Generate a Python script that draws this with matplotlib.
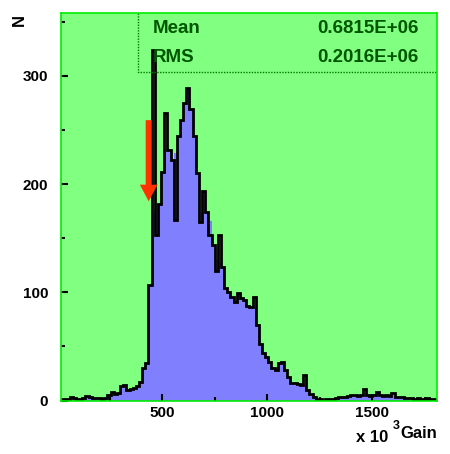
import numpy as np
import matplotlib
matplotlib.use("Agg")
import matplotlib.pyplot as plt
from matplotlib.ticker import MultipleLocator

# gain histogram, x in units of 10^3, bin width 15
bin_width = 15
fill_counts = [1, 1, 1, 1, 3, 2, 1, 1, 2, 4,
               3, 2, 2, 2, 1, 2, 5, 8, 6, 7,
               13, 14, 10, 11, 12, 13, 17, 30, 35, 107,
               173, 182, 182, 211, 231, 231, 222, 229, 244, 259,
               275, 289, 269, 244, 210, 174, 194, 174, 166, 144,
               130, 127, 123, 104, 100, 96, 91, 99, 95, 93,
               87, 86, 86, 70, 52, 44, 40, 36, 30, 28,
               35, 36, 28, 22, 16, 16, 15, 14, 15, 10,
               6, 3, 1, 1, 0, 1, 1, 1, 2, 3,
               3, 3, 4, 5, 5, 4, 5, 6, 5, 4,
               5, 8, 5, 4, 5, 4, 7, 3, 3, 3,
               2, 2, 2, 1, 2, 1, 1, 2, 1, 1]
# bins where the black outline differs from the filled histogram
spike_bins = [30, 31, 34, 37, 45, 48, 50, 51, 62, 78, 97]
spike_vals = [324, 153, 266, 167, 165, 153, 120, 153, 96, 24, 11]

mean_text = "0.6815E+06"
rms_text = "0.2016E+06"

edges = np.arange(len(fill_counts) + 1) * bin_width
line_counts = np.array(fill_counts, dtype=float)
line_counts[spike_bins] = spike_vals

W, H = 450, 454
fig = plt.figure(figsize=(W / 100, H / 100), dpi=100)
ax = fig.add_axes([60.5 / W, 1 - 400.5 / H, 376.5 / W, 387.5 / H])
ax.set_facecolor("#80ff80")

ax.stairs(fill_counts, edges, fill=True, color="#8080ff", lw=0)
ax.stairs(line_counts, edges, color="black", lw=2.0)

ax.set_xlim(16.7, 1807)
ax.set_ylim(0, 358)

for s in ax.spines.values():
    s.set_color("#00ee00")
    s.set_linewidth(1.2)

ax.xaxis.set_major_locator(MultipleLocator(500))
ax.xaxis.set_minor_locator(MultipleLocator(250))
ax.yaxis.set_major_locator(MultipleLocator(100))
ax.yaxis.set_minor_locator(MultipleLocator(50))
ax.tick_params(which="both", direction="in", top=False, right=False,
               color="black", width=1.5)
ax.tick_params(which="major", length=5)
ax.tick_params(which="minor", length=3)
ax.tick_params(axis="x", pad=4)
ax.tick_params(axis="y", pad=9)
for lab in ax.get_xticklabels() + ax.get_yticklabels():
    lab.set_fontfamily("Liberation Sans")
    lab.set_fontweight("bold")
    lab.set_fontsize(11)

# stats box
ax.plot([0.2055, 0.2055, 1.0], [1.0, 0.848, 0.848], transform=ax.transAxes,
        color="#007700", lw=1, ls=(0, (1, 1)), clip_on=False)
st = dict(transform=ax.transAxes, fontsize=13.5, color="#005500",
          family="Liberation Sans", fontweight="bold", va="center")
ax.text(0.245, 0.959, "Mean", ha="left", **st)
ax.text(0.95, 0.959, mean_text, ha="right", **st)
ax.text(0.245, 0.886, "RMS", ha="left", **st)
ax.text(0.95, 0.886, rms_text, ha="right", **st)

# red arrow
ax.annotate("", xy=(436, 184), xytext=(436, 259),
            arrowprops=dict(width=4.3, headwidth=12.7, headlength=12,
                            color="#ff3300", lw=0))

# axis titles, ROOT style
lab = dict(family="Liberation Sans", fontweight="bold", fontsize=12)
fig.text(19 / W, 1 - 20 / H, "N", rotation=90, ha="center", va="center", **lab)
fig.text(437 / W, 1 - 434 / H, "Gain", ha="right", va="center", **lab)
fig.text(388 / W, 1 - 438 / H, "x 10", ha="right", va="center", **lab)
fig.text(396.5 / W, 1 - 426 / H, "3", ha="center", va="center",
         family="Liberation Sans", fontweight="bold", fontsize=9)

fig.savefig("out.png", dpi=100)
